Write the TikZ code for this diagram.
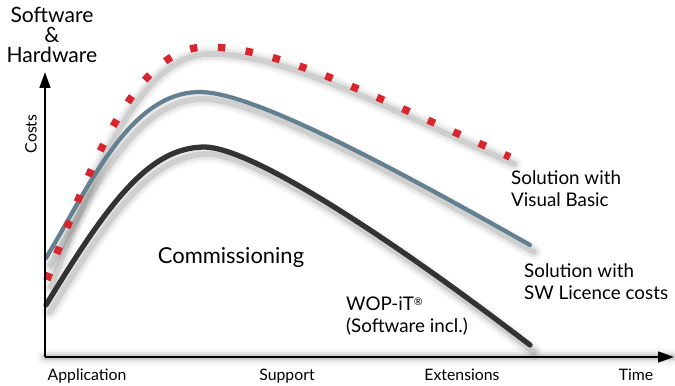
\documentclass[tikz,border=0pt]{standalone}
\usepackage{fontspec}
\setmainfont{Lato}
\usetikzlibrary{arrows.meta}

\definecolor{vbblue}{HTML}{62808F}
\definecolor{wopgray}{HTML}{333333}
\definecolor{dotred}{HTML}{D8262E}

\tikzset{
    blur/.style={draw=black, line cap=round, opacity=#1},
    axis/.style={-{Triangle[length=9pt,width=6pt]}, line width=1.5pt},
    lbl/.style={font=\fontsize{9}{10}\selectfont, anchor=base},
    curvelbl/.style={font=\fontsize{10.7}{12.5}\selectfont, align=left, anchor=west},
}

% cost curves
\def\redcurve{(47,280) .. controls (95,150) and (140,48) .. (205,47) .. controls (280,46) and (380,100) .. (510,157)}
\def\bluecurve{(46,258) .. controls (90,185) and (130,92) .. (200,92) .. controls (250,92) and (380,160) .. (530,245)}
\def\blackcurve{(46,305) .. controls (110,200) and (150,147) .. (205,147) .. controls (250,148) and (380,230) .. (530,345)}

\begin{document}
\begin{tikzpicture}[x=0.02cm, y=-0.02cm]
    \useasboundingbox (0,0) rectangle (675,385);

    \coordinate (O) at (45,357);
    \coordinate (ytop) at (45,72);
    \coordinate (xend) at (674,357);

    % soft shadows
    \begin{scope}[shift={(4,7)}]
        \foreach \w/\o in {16/0.04, 11/0.06, 6/0.10} {
            \draw[blur=\o, line width=\w*0.567pt] \redcurve;
            \draw[blur=\o, line width=\w*0.567pt] \bluecurve;
            \draw[blur=\o, line width=\w*0.567pt] \blackcurve;
            \draw[blur=\o, line width=\w*0.567pt] (O) -- (xend);
        }
    \end{scope}

    \draw[line width=2.4pt, vbblue, line cap=round] \bluecurve;
    \draw[line width=4.2pt, dotred, dash pattern=on 4.2pt off 11.7pt] \redcurve;
    \draw[line width=3pt, wopgray, line cap=round] \blackcurve;

    \draw[axis] (O) -- (ytop);
    \draw[axis] (O) -- (xend);

    \node[align=center, font=\fontsize{12}{11.5}\selectfont] (hw) at (52,35) {Software\\\&\\Hardware};
    \node[font=\fontsize{9}{10}\selectfont, rotate=90] (costs) at (31,134) {Costs};
    \node[font=\fontsize{12.5}{14}\selectfont] (comm) at (231,257) {Commissioning};

    \node[lbl] (app) at (87,380) {Application};
    \node[lbl] (sup) at (287,380) {Support};
    \node[lbl] (ext) at (462,380) {Extensions};
    \node[lbl] (time) at (636,380) {Time};

    \node[curvelbl] (vb) at (505,189) {Solution with\\Visual Basic};
    \node[curvelbl] (sw) at (518,282) {Solution with\\SW Licence costs};
    \node[curvelbl] (wop) at (340,316) {WOP-iT\raisebox{3pt}{\fontsize{6}{6}\selectfont\textregistered}\\(Software incl.)};
\end{tikzpicture}
\end{document}
